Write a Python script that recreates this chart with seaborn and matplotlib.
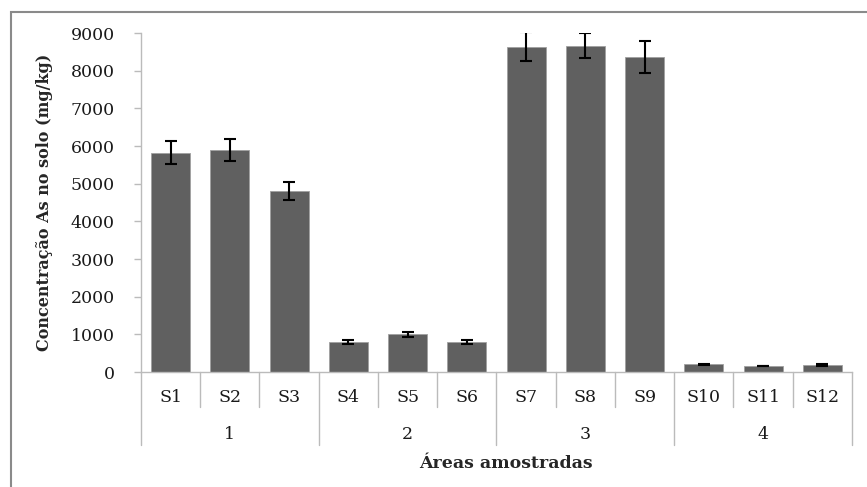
import matplotlib

matplotlib.use("Agg")
import matplotlib.pyplot as plt
import numpy as np
import pandas as pd
import seaborn as sns
from matplotlib.lines import Line2D
from matplotlib.patches import Rectangle

# dados
samples = ["S1", "S2", "S3", "S4", "S5", "S6", "S7", "S8", "S9", "S10", "S11", "S12"]
areas = ["1", "2", "3", "4"]
conc = [5820, 5890, 4810, 790, 1000, 800, 8640, 8660, 8360, 200, 170, 180]
err = [300, 290, 230, 50, 60, 50, 380, 330, 430, 25, 0, 25]
yticks = [0, 1000, 2000, 3000, 4000, 5000, 6000, 7000, 8000, 9000]

df = pd.DataFrame({"amostra": samples, "conc": conc, "err": err})

sns.set_theme(style="white")
plt.rcParams["font.family"] = ["DejaVu Serif", "Liberation Serif"]

fig = plt.figure(figsize=(8.67, 4.87), dpi=100)
ax = fig.add_axes([0.1626, 0.2361, 0.8201, 0.6961])

sns.barplot(data=df, x="amostra", y="conc", color="#606060", saturation=1,
            width=0.66, errorbar=None, edgecolor="#a0a0a0", linewidth=0.6, ax=ax)
ax.errorbar(np.arange(len(samples)), df["conc"], yerr=df["err"], fmt="none",
            ecolor="black", elinewidth=1.5, capsize=4.5, capthick=1.5)

ax.set_xlim(-0.5, len(samples) - 0.5)
ax.set_ylim(0, 9000)
ax.set_yticks(yticks)
ax.set_yticklabels([str(v) for v in yticks], fontsize=12.5, color="#1a1a1a")
ax.tick_params(axis="y", length=5, color="#bbbbbb", width=1, pad=14, left=True)
ax.set_xticks([])
ax.set_xlabel("")
ax.set_ylabel("Concentração As no solo (mg/kg)", fontsize=11.5, fontweight="bold")
ax.yaxis.set_label_coords(-0.124, 0.5)

for s in ["top", "right"]:
    ax.spines[s].set_visible(False)
ax.spines["left"].set_color("#bbbbbb")
ax.spines["bottom"].set_color("#bbbbbb")
ax.spines["left"].set_linewidth(1)
ax.spines["bottom"].set_linewidth(1)

# eixo x em dois níveis (amostra / área)
trans = ax.get_xaxis_transform()
lvl1 = -0.104
lvl2 = -0.215
for i, s in enumerate(samples):
    ax.text(i, -0.075, s, transform=trans, ha="center", va="center",
            fontsize=12.5, color="#1a1a1a")
for i in range(len(samples) + 1):
    x = i - 0.5
    y_end = lvl2 if i % 3 == 0 else lvl1
    ax.add_line(Line2D([x, x], [0, y_end], transform=trans, color="#bbbbbb",
                       lw=1, clip_on=False))
for g, a in enumerate(areas):
    ax.text(g * 3 + 1, -0.183, a, transform=trans, ha="center", va="center",
            fontsize=12.5, color="#1a1a1a")

fig.text(0.583, 0.049, "Áreas amostradas", ha="center", va="center",
         fontsize=12.5, fontweight="bold")

# moldura externa
fig.patches.append(Rectangle((11 / 867, -0.05), 1.2, 1 - 11.5 / 487 + 0.05,
                             transform=fig.transFigure, fill=False,
                             edgecolor="#8a8a8a", lw=1.5))

fig.savefig("out.png", dpi=100)
plt.close(fig)
